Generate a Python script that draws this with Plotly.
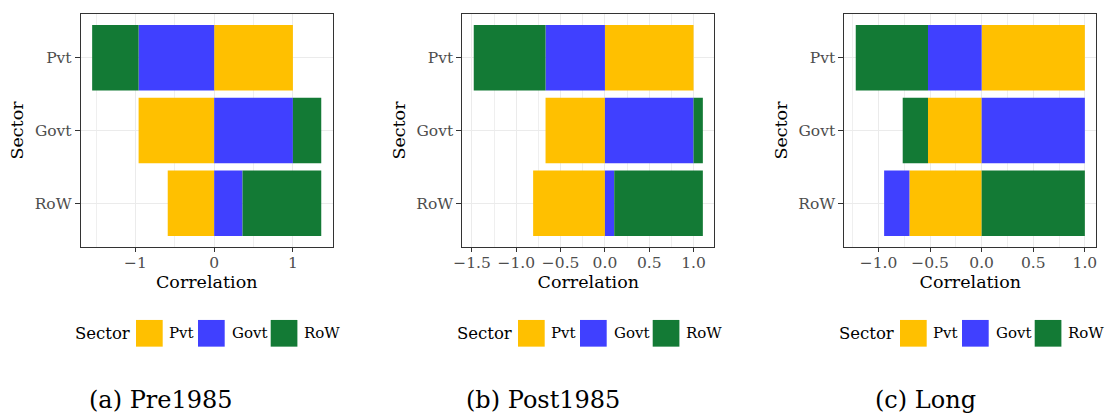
import plotly.graph_objects as go

# Sectors on the category axis (top to bottom) and their fill colours
sectors = ["Pvt", "Govt", "RoW"]
sector_colors = ["#FFC000", "#4040FF", "#137A35"]

# Correlation of each sector (rows of the bar chart) with Pvt / Govt / RoW
pre1985_pvt = [1.00, -0.96, -0.59]
pre1985_govt = [-0.96, 1.00, 0.36]
pre1985_row = [-0.59, 0.36, 1.00]

post1985_pvt = [1.00, -0.67, -0.81]
post1985_govt = [-0.67, 1.00, 0.105]
post1985_row = [-0.81, 0.105, 1.00]

long_pvt = [1.00, -0.52, -0.70]
long_govt = [-0.52, 1.00, -0.245]
long_row = [-0.70, -0.245, 1.00]

panel_captions = ["(a) Pre1985", "(b) Post1985", "(c) Long"]
tick_values = [
    [-1, 0, 1],
    [-1.5, -1.0, -0.5, 0.0, 0.5, 1.0],
    [-1.0, -0.5, 0.0, 0.5, 1.0],
]
tick_formats = ["d", ".1f", ".1f"]

panels = [
    [pre1985_pvt, pre1985_govt, pre1985_row],
    [post1985_pvt, post1985_govt, post1985_row],
    [long_pvt, long_govt, long_row],
]

# ---- page geometry (pixels) ----
W, H = 1105, 415
FONT = "DejaVu Serif"
panel_left = [80.7, 462.3, 844.3]
panel_width = 252.0
panel_top, panel_bottom = 14.0, 247.0
legend_left = [72.7, 454.7, 836.7]
caption_center = [160.7, 543.1, 925.5]
caption_y = 400.0
legend_y = 333.3
key_size = 26.7
key_offsets = [63.3, 125.3, 198.0]
label_offsets = [94.0, 157.3, 229.6]


def px(x):
    return x / W


def py(y):
    return 1 - y / H


fig = go.Figure()
shapes = []
annotations = []

for p, series in enumerate(panels):
    ax = "" if p == 0 else str(p + 1)
    xname, yname = "x" + ax, "y" + ax

    # stacked diverging bars: first trace sits next to zero
    for name, color, values in zip(sectors, sector_colors, series):
        fig.add_trace(
            go.Bar(
                x=values,
                y=sectors,
                orientation="h",
                name=name,
                marker=dict(color=color, line=dict(width=0)),
                width=0.9,
                showlegend=False,
                xaxis=xname,
                yaxis=yname,
            )
        )

    # ggplot-like range: data extent plus 5% on each side
    neg = [sum(min(v[i], 0) for v in series) for i in range(len(sectors))]
    pos = [sum(max(v[i], 0) for v in series) for i in range(len(sectors))]
    lo, hi = min(neg), max(pos)
    pad = 0.05 * (hi - lo)
    xr = [lo - pad, hi + pad]

    majors = tick_values[p]
    step = majors[1] - majors[0]
    minors = [m + step / 2 for m in [majors[0] - step] + majors]
    minors = [m for m in minors if xr[0] < m < xr[1] - 0.01]

    fig.update_layout(
        {
            "xaxis" + ax: dict(
                domain=[px(panel_left[p]), px(panel_left[p] + panel_width)],
                anchor=yname,
                automargin=False,
                range=xr,
                tickmode="array",
                tickvals=majors,
                tickformat=tick_formats[p],
                ticks="outside",
                ticklen=4,
                tickwidth=1,
                tickcolor="#333333",
                ticklabelstandoff=-3,
                tickfont=dict(family=FONT, size=15.5, color="#4D4D4D"),
                showgrid=True,
                gridcolor="#EBEBEB",
                gridwidth=1,
                minor=dict(
                    tickmode="array",
                    tickvals=minors,
                    showgrid=True,
                    gridcolor="#EFEFEF",
                    gridwidth=0.6,
                    ticks="",
                ),
                zeroline=False,
                showline=True,
                linecolor="#333333",
                linewidth=1,
                mirror=True,
                title=dict(
                    text="Correlation",
                    font=dict(family=FONT, size=17.5, color="black"),
                    standoff=2,
                ),
            ),
            "yaxis" + ax: dict(
                domain=[py(panel_bottom), py(panel_top)],
                anchor=xname,
                automargin=False,
                type="category",
                categoryorder="array",
                categoryarray=sectors,
                range=[2.6, -0.6],
                ticks="outside",
                ticklen=5,
                tickwidth=1,
                tickcolor="#333333",
                tickfont=dict(family=FONT, size=15.5, color="#4D4D4D"),
                showgrid=True,
                gridcolor="#EBEBEB",
                gridwidth=1,
                zeroline=False,
                showline=True,
                linecolor="#333333",
                linewidth=1,
                mirror=True,
                title=dict(
                    text="Sector",
                    font=dict(family=FONT, size=17.5, color="black"),
                    standoff=6,
                ),
            ),
        }
    )

    # legend below the panel: title, then a filled key and label per sector
    annotations.append(
        dict(
            text="Sector",
            x=px(legend_left[p]),
            y=py(legend_y),
            xref="paper",
            yref="paper",
            xanchor="left",
            yanchor="middle",
            showarrow=False,
            font=dict(family=FONT, size=16.5, color="black"),
        )
    )
    for name, color, ko, lo_ in zip(sectors, sector_colors, key_offsets, label_offsets):
        x0 = legend_left[p] + ko
        shapes.append(
            dict(
                type="rect",
                xref="paper",
                yref="paper",
                x0=px(x0),
                x1=px(x0 + key_size),
                y0=py(legend_y + key_size / 2),
                y1=py(legend_y - key_size / 2),
                fillcolor=color,
                line=dict(width=0),
            )
        )
        annotations.append(
            dict(
                text=name,
                x=px(legend_left[p] + lo_),
                y=py(legend_y),
                xref="paper",
                yref="paper",
                xanchor="left",
                yanchor="middle",
                showarrow=False,
                font=dict(family=FONT, size=15, color="black"),
            )
        )

    # sub-figure caption
    annotations.append(
        dict(
            text=panel_captions[p],
            x=px(caption_center[p]),
            y=py(caption_y),
            xref="paper",
            yref="paper",
            xanchor="center",
            yanchor="middle",
            showarrow=False,
            font=dict(family=FONT, size=24, color="black"),
        )
    )

fig.update_layout(
    width=W,
    height=H,
    margin=dict(l=0, r=0, t=0, b=0, autoexpand=False),
    paper_bgcolor="white",
    plot_bgcolor="white",
    barmode="relative",
    bargap=0.1,
    showlegend=False,
    shapes=shapes,
    annotations=annotations,
)

fig.write_html("out.html")
